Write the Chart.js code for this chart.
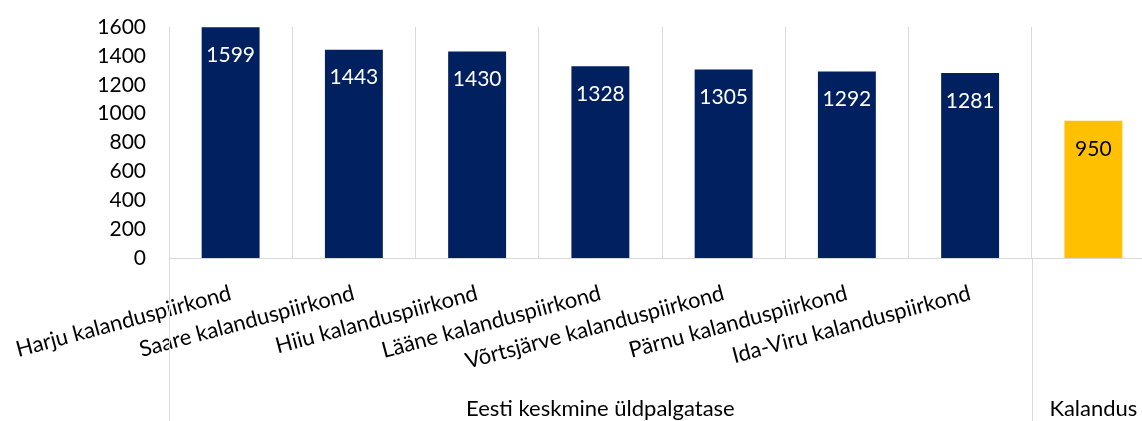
<!DOCTYPE html>
<html>
<head>
<meta charset="utf-8">
<script src="https://cdn.jsdelivr.net/npm/chart.js@4"></script>
<style>
  html, body { margin: 0; padding: 0; overflow: hidden; background: #fff; }
  /* plot runs a little past the right edge of the window, like the reference */
  #wrap { width: 1155px; height: 421px; }
</style>
</head>
<body>
<div id="wrap"><canvas id="chart"></canvas></div>
<script>
// categories (last one only has the group label)
const districts = [
  'Harju kalanduspiirkond',
  'Saare kalanduspiirkond',
  'Hiiu kalanduspiirkond',
  'Lääne kalanduspiirkond',
  'Võrtsjärve kalanduspiirkond',
  'Pärnu kalanduspiirkond',
  'Ida-Viru kalanduspiirkond',
  ''
];
// wage values
const wages = [1599, 1443, 1430, 1328, 1305, 1292, 1281, 950];
// groups under the axis
const groupNames = ['Eesti keskmine üldpalgatase', 'Kalandus'];
const groupFirst = [0, 7];
const groupLast = [6, 7];
// y axis
const yMin = 0;
const yMax = 1600;
const yStep = 200;

const navy = '#002060';
const gold = '#FFC000';
const gridColor = '#d9d9d9';
const fontFamily = 'Lato, "Open Sans", sans-serif';

const barColors = wages.map((v, i) => i < 7 ? navy : gold);
const valueColors = wages.map((v, i) => i < 7 ? '#ffffff' : '#000000');

// value labels inside the bars
const valueLabels = {
  id: 'valueLabels',
  afterDatasetsDraw(chart) {
    const ctx = chart.ctx;
    const meta = chart.getDatasetMeta(0);
    ctx.save();
    ctx.font = '21px ' + fontFamily;
    ctx.textAlign = 'center';
    ctx.textBaseline = 'middle';
    meta.data.forEach((bar, i) => {
      ctx.fillStyle = valueColors[i];
      ctx.fillText(String(wages[i]), bar.x, bar.y + 28);
    });
    ctx.restore();
  }
};

// group separators and group labels below the axis
const groupLabels = {
  id: 'groupLabels',
  afterDraw(chart) {
    const ctx = chart.ctx;
    const x = chart.scales.x;
    const half = (x.getPixelForValue(1) - x.getPixelForValue(0)) / 2;
    const bottom = chart.chartArea.bottom;
    ctx.save();
    ctx.strokeStyle = gridColor;
    ctx.lineWidth = 1;
    ctx.font = '22px ' + fontFamily;
    ctx.fillStyle = '#000';
    ctx.textAlign = 'center';
    ctx.textBaseline = 'middle';
    for (let g = 0; g < groupNames.length; g++) {
      const left = x.getPixelForValue(groupFirst[g]) - half;
      const right = x.getPixelForValue(groupLast[g]) + half;
      const lx = Math.round(left) + 0.5;
      ctx.beginPath();
      ctx.moveTo(lx, bottom);
      ctx.lineTo(lx, chart.height);
      ctx.stroke();
      ctx.fillText(groupNames[g], (left + right) / 2, chart.height - 12);
    }
    ctx.restore();
  }
};

const ctx = document.getElementById('chart').getContext('2d');
const myChart = new Chart(ctx, {
  type: 'bar',
  data: {
    labels: districts,
    datasets: [{
      data: wages,
      backgroundColor: barColors,
      categoryPercentage: 1,
      barPercentage: 0.47
    }]
  },
  options: {
    responsive: true,
    maintainAspectRatio: false,
    animation: false,
    layout: { padding: { top: 27, right: 0, bottom: 0, left: 0 } },
    plugins: {
      legend: { display: false },
      tooltip: { enabled: false }
    },
    scales: {
      x: {
        offset: true,
        grid: { offset: true, color: gridColor, drawTicks: false },
        border: { display: true, color: gridColor },
        ticks: {
          color: '#000',
          font: { family: fontFamily, size: 22 },
          minRotation: 15,
          maxRotation: 15,
          autoSkip: false,
          padding: 22
        },
        afterFit(scale) {
          scale.height = 163;
          scale.paddingLeft = 0;
          scale.paddingRight = 0;
        }
      },
      y: {
        min: yMin,
        max: yMax,
        grid: { display: false, drawTicks: false },
        border: { display: false },
        ticks: {
          stepSize: yStep,
          autoSkip: false,
          color: '#000',
          font: { family: fontFamily, size: 21 },
          padding: 23,
          callback: (v) => String(v)
        },
        afterFit(scale) {
          scale.width = 169;
          scale.paddingTop = 0;
          scale.paddingBottom = 0;
        }
      }
    }
  },
  plugins: [valueLabels, groupLabels]
});
</script>
</body>
</html>
